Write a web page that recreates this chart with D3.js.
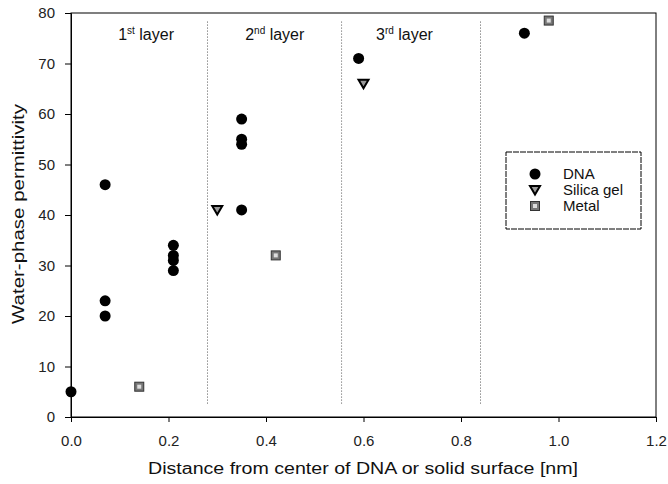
<!DOCTYPE html>
<html>
<head>
<meta charset="utf-8">
<script src="https://cdn.jsdelivr.net/npm/d3@7"></script>
<style>
  body { margin: 0; background: #fff; }
  svg { font-family: "Liberation Sans", Arial, sans-serif; }
</style>
</head>
<body>
<svg id="chart"></svg>
<script>
// data
const dnaX = [0, 0.07, 0.07, 0.07, 0.21, 0.21, 0.21, 0.21, 0.35, 0.35, 0.35, 0.35, 0.59, 0.93];
const dnaY = [5, 46, 23, 20, 34, 32, 31, 29, 59, 55, 54, 41, 71, 76];
const silicaX = [0.30, 0.60];
const silicaY = [41, 66];
const metalX = [0.14, 0.42, 0.98];
const metalY = [6, 32, 78.5];
const layerBounds = [0.28, 0.555, 0.84];
const layerLabels = [["1", "st", 0.154], ["2", "nd", 0.418], ["3", "rd", 0.684]];
const xTicks = [0, 0.2, 0.4, 0.6, 0.8, 1.0, 1.2];
const yTicks = [0, 10, 20, 30, 40, 50, 60, 70, 80];

const width = 668, height = 484;
const margin = { top: 13, right: 12, bottom: 67, left: 71 };
const innerW = width - margin.left - margin.right;
const innerH = height - margin.top - margin.bottom;

const svg = d3.select("#chart").attr("width", width).attr("height", height);
const g = svg.append("g").attr("transform", "translate(" + margin.left + "," + margin.top + ")");

const x = d3.scaleLinear().domain([0, 1.2]).range([0, innerW]);
const y = d3.scaleLinear().domain([0, 80]).range([innerH, 0]);

// frame
g.append("rect")
  .attr("width", innerW).attr("height", innerH)
  .attr("fill", "none").attr("stroke", "#000").attr("stroke-width", 1);

// axes
const xAxis = g.append("g")
  .attr("transform", "translate(0," + innerH + ")")
  .call(d3.axisBottom(x).tickValues(xTicks).tickFormat(d3.format(".1f")).tickSize(5).tickPadding(13));
const yAxis = g.append("g")
  .call(d3.axisLeft(y).tickValues(yTicks).tickSize(6).tickPadding(10));
[xAxis, yAxis].forEach(a => {
  a.select(".domain").attr("stroke", "#000");
  a.selectAll("text").attr("font-size", 15).attr("fill", "#222")
    .attr("font-family", "'Liberation Sans', Arial, sans-serif");
});

// layer separators
g.selectAll(".sep")
  .data(layerBounds)
  .enter()
  .append("line")
  .attr("class", "sep")
  .attr("x1", d => x(d)).attr("x2", d => x(d))
  .attr("y1", y(78.3)).attr("y2", y(2.3))
  .attr("stroke", "#555").attr("stroke-width", 1)
  .attr("stroke-dasharray", "1,2");

// layer labels
const lbl = g.selectAll(".layer")
  .data(layerLabels)
  .enter()
  .append("text")
  .attr("class", "layer")
  .attr("x", d => x(d[2]))
  .attr("y", y(74.6))
  .attr("text-anchor", "middle")
  .attr("font-size", 16)
  .attr("fill", "#111");
lbl.append("tspan").text(d => d[0]);
lbl.append("tspan").attr("dy", -6).attr("font-size", 10).text(d => d[1]);
lbl.append("tspan").attr("dy", 6).text(" layer");

// markers
function drawCircle(sel, cx, cy) {
  sel.append("circle").attr("cx", cx).attr("cy", cy).attr("r", 5.5).attr("fill", "#000");
}
function drawTri(sel, cx, cy) {
  sel.append("path")
    .attr("d", "M" + (cx - 5) + "," + (cy - 4) + "L" + (cx + 5) + "," + (cy - 4) + "L" + cx + "," + (cy + 4.5) + "Z")
    .attr("fill", "#999").attr("stroke", "#000").attr("stroke-width", 2);
}
function drawSquare(sel, cx, cy) {
  sel.append("rect").attr("x", cx - 4.5).attr("y", cy - 4.5).attr("width", 9).attr("height", 9)
    .attr("fill", "#777").attr("stroke", "#333").attr("stroke-width", 1);
  sel.append("rect").attr("x", cx - 2).attr("y", cy - 2).attr("width", 4).attr("height", 4)
    .attr("fill", "#ddd");
}

const pts = g.append("g");
dnaX.forEach((v, i) => drawCircle(pts, x(v), y(dnaY[i])));
silicaX.forEach((v, i) => drawTri(pts, x(v), y(silicaY[i])));
metalX.forEach((v, i) => drawSquare(pts, x(v), y(metalY[i])));

// legend
const legend = svg.append("g").attr("transform", "translate(506,152)");
legend.append("rect").attr("width", 135).attr("height", 77)
  .attr("fill", "#fff").attr("stroke", "#000").attr("stroke-width", 1)
  .attr("stroke-dasharray", "6,1");
const legendNames = ["DNA", "Silica gel", "Metal"];
const legendDraw = [drawCircle, drawTri, drawSquare];
legendNames.forEach((name, i) => {
  const cy = 22 + i * 16;
  legendDraw[i](legend, 29, cy);
  legend.append("text").attr("x", 57).attr("y", cy + 5)
    .attr("font-size", 15).attr("fill", "#111").text(name);
});

// axis titles
svg.append("text")
  .attr("x", 363).attr("y", 474)
  .attr("text-anchor", "middle").attr("font-size", 16).attr("fill", "#111")
  .attr("textLength", 430).attr("lengthAdjust", "spacingAndGlyphs")
  .text("Distance from center of DNA or solid surface [nm]");
svg.append("text")
  .attr("transform", "rotate(-90)")
  .attr("x", -214).attr("y", 24)
  .attr("text-anchor", "middle").attr("font-size", 17).attr("fill", "#111")
  .attr("textLength", 220).attr("lengthAdjust", "spacingAndGlyphs")
  .text("Water-phase permittivity");
</script>
</body>
</html>
